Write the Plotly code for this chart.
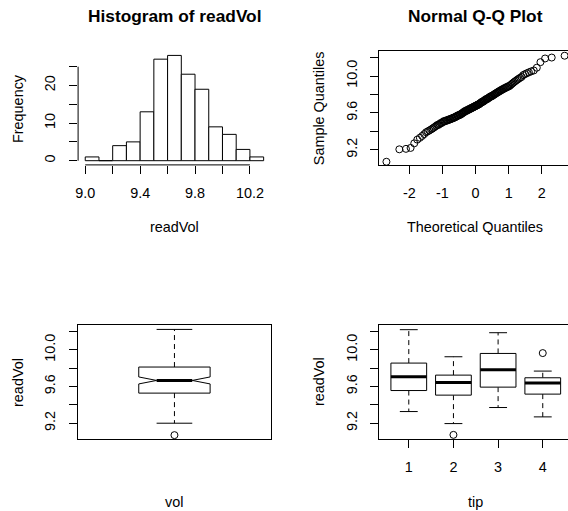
import plotly.graph_objects as go
from statistics import NormalDist

W, H = 568, 511
FONT = "Liberation Sans, Arial, Helvetica, sans-serif"

# ---------------- data ----------------
hist_breaks = [9.0, 9.1, 9.2, 9.3, 9.4, 9.5, 9.6, 9.7, 9.8, 9.9, 10.0, 10.1, 10.2, 10.3]
hist_counts = [1, 0, 4, 5, 13, 27, 28, 23, 19, 9, 7, 3, 1]
hist_xticks = [9.0, 9.2, 9.4, 9.6, 9.8, 10.0, 10.2]
hist_xlabels = ["9.0", "", "9.4", "", "9.8", "", "10.2"]
hist_yticks = [0, 5, 10, 15, 20, 25]
hist_ylabels = ["0", "", "10", "", "20", ""]

read_vol_sorted = [
    9.07,
    9.205, 9.21, 9.22, 9.27,
    9.31, 9.33, 9.35, 9.37, 9.39,
    9.40, 9.41, 9.42, 9.43, 9.44, 9.45, 9.46, 9.47, 9.47, 9.48, 9.49, 9.49, 9.50,
    9.51, 9.51, 9.51, 9.52, 9.52, 9.52, 9.53, 9.53, 9.53, 9.54, 9.54, 9.54, 9.55,
    9.55, 9.55, 9.56, 9.56, 9.57, 9.57, 9.57, 9.58, 9.58, 9.58, 9.59, 9.59, 9.60, 9.60,
    9.61, 9.61, 9.62, 9.62, 9.62, 9.63, 9.63, 9.63, 9.64, 9.64, 9.64, 9.65, 9.65, 9.65,
    9.66, 9.66, 9.66, 9.67, 9.67, 9.67, 9.68, 9.68, 9.68, 9.69, 9.69, 9.69, 9.70, 9.70,
    9.71, 9.71, 9.72, 9.72, 9.72, 9.73, 9.73, 9.74, 9.74, 9.75, 9.75, 9.75, 9.76, 9.76,
    9.77, 9.77, 9.78, 9.78, 9.78, 9.79, 9.79, 9.80, 9.80,
    9.81, 9.81, 9.82, 9.82, 9.83, 9.83, 9.84, 9.84, 9.85, 9.85, 9.86, 9.86, 9.87, 9.87,
    9.88, 9.88, 9.89, 9.89, 9.90,
    9.91, 9.92, 9.93, 9.94, 9.95, 9.96, 9.97, 9.98, 9.99,
    10.01, 10.02, 10.03, 10.04, 10.05, 10.06, 10.09,
    10.15, 10.19, 10.20,
    10.22,
]
qq_xticks = [-2, -1, 0, 1, 2]
qq_xlabels = ["-2", "-1", "0", "1", "2"]
vol_yticks = [9.2, 9.4, 9.6, 9.8, 10.0, 10.2]
vol_ylabels = ["9.2", "", "9.6", "", "10.0", ""]

# single notched box "vol"
vol_stats = dict(lower=9.2, q1=9.528, median=9.666, q3=9.812, upper=10.222, notch=0.038)
vol_outliers = [9.07]

# boxes by tip
tip_groups = [1, 2, 3, 4]
tip_lower = [9.327, 9.196, 9.371, 9.269]
tip_q1 = [9.556, 9.506, 9.593, 9.517]
tip_median = [9.706, 9.644, 9.782, 9.637]
tip_q3 = [9.855, 9.724, 9.960, 9.695]
tip_upper = [10.219, 9.924, 10.186, 9.768]
tip_outlier_group = [2, 4]
tip_outlier_value = [9.073, 9.964]

# ---------------- helpers ----------------
def px_x(p):
    return p / W

def px_y(p):
    return 1 - p / H

def box_traces(pos, lo, q1, med, q3, hi, half, xa, ya, notch=None):
    bx, by, mx, my, wx, wy, cx, cy = [], [], [], [], [], [], [], []
    for p, l, a, m, b, u in zip(pos, lo, q1, med, q3, hi):
        if notch is None:
            bx += [p - half, p + half, p + half, p - half, p - half, None]
            by += [a, a, b, b, a, None]
            mx += [p - half, p + half, None]
        else:
            bx += [p - half, p + half, p + half, p + half / 2, p + half, p + half,
                   p - half, p - half, p - half / 2, p - half, p - half, None]
            by += [a, a, m - notch, m, m + notch, b, b, m + notch, m, m - notch, a, None]
            mx += [p - half / 2, p + half / 2, None]
        my += [m, m, None]
        wx += [p, p, None, p, p, None]
        wy += [b, u, None, a, l, None]
        cx += [p - half / 2, p + half / 2, None, p - half / 2, p + half / 2, None]
        cy += [u, u, None, l, l, None]
    common = dict(mode="lines", xaxis=xa, yaxis=ya, showlegend=False, hoverinfo="skip")
    return [
        go.Scatter(x=wx, y=wy, line=dict(color="black", width=1, dash="5px,4px"), **common),
        go.Scatter(x=cx, y=cy, line=dict(color="black", width=1), **common),
        go.Scatter(x=bx, y=by, line=dict(color="black", width=1), fill="toself",
                   fillcolor="white", **common),
        go.Scatter(x=mx, y=my, line=dict(color="black", width=3), **common),
    ]

fig = go.Figure()

# ---- histogram ----
mids = [(a + b) / 2 for a, b in zip(hist_breaks[:-1], hist_breaks[1:])]
widths = [b - a for a, b in zip(hist_breaks[:-1], hist_breaks[1:])]
fig.add_trace(go.Bar(x=mids, y=hist_counts, width=widths, xaxis="x", yaxis="y",
                     marker=dict(color="white", line=dict(color="black", width=1)),
                     showlegend=False, hoverinfo="skip"))

# ---- QQ ----
n = len(read_vol_sorted)
nd = NormalDist()
qq_x = [nd.inv_cdf((i - 0.5) / n) for i in range(1, n + 1)]
fig.add_trace(go.Scatter(x=qq_x, y=read_vol_sorted, mode="markers", xaxis="x2", yaxis="y2",
                         marker=dict(symbol="circle-open", size=7, color="black",
                                     line=dict(width=1, color="black")),
                         showlegend=False, hoverinfo="skip"))

# ---- vol box ----
for t in box_traces([1], [vol_stats["lower"]], [vol_stats["q1"]], [vol_stats["median"]],
                    [vol_stats["q3"]], [vol_stats["upper"]], 0.2, "x3", "y3",
                    notch=vol_stats["notch"]):
    fig.add_trace(t)
fig.add_trace(go.Scatter(x=[1] * len(vol_outliers), y=vol_outliers, mode="markers",
                         xaxis="x3", yaxis="y3",
                         marker=dict(symbol="circle-open", size=7, color="black",
                                     line=dict(width=1, color="black")),
                         showlegend=False, hoverinfo="skip"))

# ---- tip boxes ----
for t in box_traces(tip_groups, tip_lower, tip_q1, tip_median, tip_q3, tip_upper, 0.4, "x4", "y4"):
    fig.add_trace(t)
fig.add_trace(go.Scatter(x=tip_outlier_group, y=tip_outlier_value, mode="markers",
                         xaxis="x4", yaxis="y4",
                         marker=dict(symbol="circle-open", size=7, color="black",
                                     line=dict(width=1, color="black")),
                         showlegend=False, hoverinfo="skip"))

tickfont = dict(family=FONT, size=14.4, color="black")

def ax(**kw):
    d = dict(showgrid=False, zeroline=False, ticks="outside", ticklen=8, tickwidth=1,
             tickcolor="black", tickfont=tickfont, linecolor="black", linewidth=1,
             fixedrange=True, tickmode="array")
    d.update(kw)
    return d

XSO = 7   # x tick label standoff
YSO = 8   # y tick label standoff

# panel geometry (pixels)
L1, R1 = 75.5, 269.2
L2, R2 = 378.3, 568.0
T1, B1 = 51.2, 164.9
T2, B2 = 325.0, 439.0

fig.update_layout(
    width=W, height=H, margin=dict(l=0, r=0, t=0, b=0),
    paper_bgcolor="white", plot_bgcolor="white", bargap=0,
    font=dict(family=FONT, size=14.4, color="black"),
    xaxis=ax(domain=[px_x(L1), px_x(R1)], range=[8.948, 10.352], anchor="y",
             tickvals=hist_xticks, ticktext=hist_xlabels, showline=False,
             ticklabelstandoff=XSO),
    yaxis=ax(domain=[px_y(B1), px_y(T1)], range=[-1.12, 29.12], anchor="x",
             tickvals=hist_yticks, ticktext=hist_ylabels, showline=False, tickangle=-90,
             ticklabelstandoff=YSO),
    xaxis2=ax(domain=[px_x(L2), px_x(R2)], range=[-2.905, 2.792], anchor="y2",
              tickvals=qq_xticks, ticktext=qq_xlabels, showline=True, mirror=True,
              ticklabelstandoff=XSO),
    yaxis2=ax(domain=[px_y(B1), px_y(T1)], range=[9.036, 10.269], anchor="x2",
              tickvals=vol_yticks, ticktext=vol_ylabels, showline=True, tickangle=-90,
              ticklabelstandoff=YSO),
    xaxis3=ax(domain=[px_x(L1), px_x(R1)], range=[0.46, 1.54], anchor="y3",
              tickvals=[], ticks="", showticklabels=False, showline=True, mirror=True),
    yaxis3=ax(domain=[px_y(B2), px_y(T2)], range=[9.028, 10.27], anchor="x3",
              tickvals=vol_yticks, ticktext=vol_ylabels, showline=True, mirror=True,
              tickangle=-90, ticklabelstandoff=YSO),
    xaxis4=ax(domain=[px_x(L2), px_x(R2)], range=[0.34, 4.565], anchor="y4",
              tickvals=tip_groups, ticktext=[str(g) for g in tip_groups],
              showline=True, mirror=True, ticklabelstandoff=XSO),
    yaxis4=ax(domain=[px_y(B2), px_y(T2)], range=[9.028, 10.27], anchor="x4",
              tickvals=vol_yticks, ticktext=vol_ylabels, showline=True, tickangle=-90,
              ticklabelstandoff=YSO),
)

# offset axis lines of the histogram (R style)
fig.add_shape(type="line", xref="x", yref="y domain", x0=hist_xticks[0], x1=hist_xticks[-1],
              y0=0, y1=0, line=dict(color="black", width=1))
fig.add_shape(type="line", xref="x domain", yref="y", x0=0, x1=0, y0=hist_yticks[0],
              y1=hist_yticks[-1], line=dict(color="black", width=1))

def label(text, x, y, size=14.4, bold=False, angle=0):
    fig.add_annotation(text=f"<b>{text}</b>" if bold else text, x=px_x(x), y=px_y(y),
                       xref="paper", yref="paper", showarrow=False, textangle=angle,
                       xanchor="center", yanchor="middle",
                       font=dict(family=FONT, size=size, color="black"))

c1 = (L1 + R1) / 2
c2 = 475.0
label("Histogram of readVol", c1, 15.5, size=17.3, bold=True)
label("Normal Q-Q Plot", c2, 15.5, size=17.3, bold=True)
label("readVol", c1, 227.0)
label("Theoretical Quantiles", c2, 227.0)
label("Frequency", L1 - 60.5, (T1 + B1) / 2, angle=-90)
label("Sample Quantiles", L2 - 60.5, (T1 + B1) / 2, angle=-90)
label("vol", c1, 502.0)
label("tip", c2, 502.0)
label("readVol", L1 - 60.5, (T2 + B2) / 2, angle=-90)
label("readVol", L2 - 60.5, (T2 + B2) / 2, angle=-90)

fig.write_html(
    "out.html",
    config={"displayModeBar": False, "staticPlot": True},
    post_script="document.body.style.margin='0';document.body.style.padding='0';"
                "document.documentElement.style.overflow='hidden';",
)
